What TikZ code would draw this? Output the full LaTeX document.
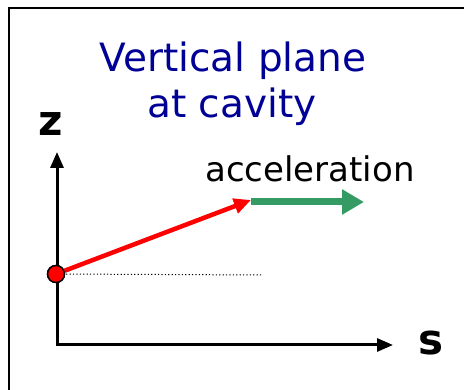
\documentclass[tikz,border=0pt]{standalone}
\usepackage{fontspec}
\setmainfont{DejaVu Sans}
\usetikzlibrary{arrows.meta}
\definecolor{titleblue}{RGB}{0,0,150}
\definecolor{accgreen}{RGB}{53,155,100}
\definecolor{dotred}{RGB}{255,0,0}
\tikzset{
  axis/.style={line width=3pt, line join=miter, -{Triangle[length=16pt,width=13pt]}},
  titletext/.style={text=titleblue, font=\fontsize{39}{46}\selectfont, inner sep=0pt, anchor=base},
  labeltext/.style={font=\fontsize{34}{40}\selectfont, inner sep=0pt, anchor=base},
  axislabel/.style={font=\bfseries\fontsize{42}{50}\selectfont, inner sep=0pt},
  reddot/.style={circle, draw=black, line width=1.4pt, fill=dotred, minimum size=17pt, inner sep=0pt},
}
\begin{document}
\begin{tikzpicture}[x=1pt,y=-1pt]
\useasboundingbox (0,0) rectangle (464,390);
% frame (cropped)
\draw[line width=1.6pt] (9,390) -- (9,8) -- (464,8);
% title
\node[titletext] (t1) at (233,72) {Vertical plane};
\node[titletext] (t2) at (232,118) {at cavity};
% axes
\coordinate (O) at (57,345);
\coordinate (ztip) at (57,152);
\coordinate (stip) at (393,345);
\draw[axis] (O) -- (ztip);
\draw[axis] (O) -- (stip);
\draw[line width=3pt] (57,346.5) -- (57,343.5);
\node[axislabel] (zl) at (51,124) {z};
\node[axislabel] (sl) at (431,343) {s};
% dotted line
\coordinate (dend) at (263,275);
\node[reddot] (P) at (56,274) {};
\draw[line width=1pt, dash pattern=on 1.2pt off 2.2pt] (P.center) -- (dend);
\node[reddot] (P2) at (56,274) {};
% red arrow
\coordinate (rtip) at (251,200);
\draw[dotred, line width=4.5pt, -{Triangle[length=17pt,width=15pt]}] (P) -- (rtip);
% green arrow
\coordinate (gstart) at (251,202);
\coordinate (gend) at (364,202);
\draw[accgreen, line width=7pt, -{Triangle[length=22pt,width=24pt]}] (gstart) -- (gend);
% label
\node[labeltext] (acc) at (310,182) {acceleration};
\end{tikzpicture}
\end{document}
